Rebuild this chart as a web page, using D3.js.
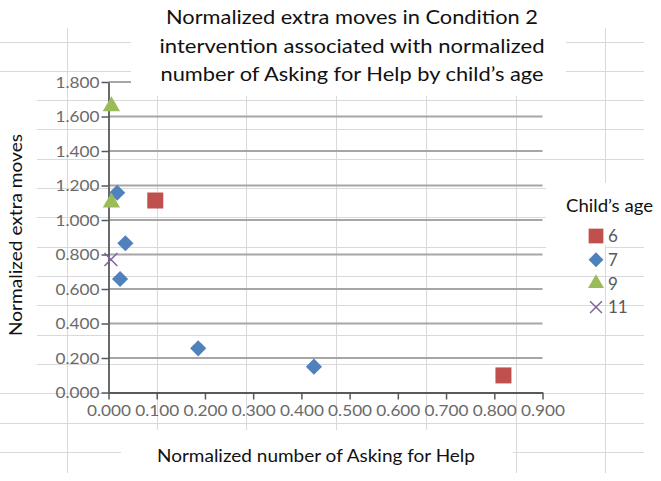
<!DOCTYPE html>
<html><head><meta charset="utf-8">
<script src="https://cdn.jsdelivr.net/npm/d3@7"></script>
<style>body{margin:0;background:#fff}svg{display:block}text{font-family:Lato,"Open Sans",sans-serif}</style>
</head><body><svg id="c" width="661" height="481"></svg>
<script>
// ---- data ----
const ages = ["6", "7", "9", "11"];
const age6X = [0.097, 0.819];
const age6Y = [1.113, 0.099];
const age7X = [0.018, 0.035, 0.024, 0.186, 0.426];
const age7Y = [1.158, 0.865, 0.658, 0.256, 0.150];
const age9X = [0.006, 0.006];
const age9Y = [1.660, 1.101];
const age11X = [0.005];
const age11Y = [0.771];
const xTicks = [0, 0.1, 0.2, 0.3, 0.4, 0.5, 0.6, 0.7, 0.8, 0.9];
const yTicks = [0, 0.2, 0.4, 0.6, 0.8, 1.0, 1.2, 1.4, 1.6, 1.8];
const titleLines = ["Normalized extra moves in Condition 2",
  "intervention associated with normalized",
  "number of Asking for Help by child\u2019s age"];
const xTitle = "Normalized number of Asking for Help";
const yTitle = "Normalized extra moves";
const legendTitle = "Child\u2019s age";

const series = [
  {age: ages[0], xs: age6X, ys: age6Y, shape: "square", color: "#C0504D"},
  {age: ages[1], xs: age7X, ys: age7Y, shape: "diamond", color: "#4F81BD"},
  {age: ages[2], xs: age9X, ys: age9Y, shape: "triangle", color: "#9BBB59"},
  {age: ages[3], xs: age11X, ys: age11Y, shape: "cross", color: "#8064A2"}
];

const svg = d3.select("#c");
svg.append("rect").attr("width", 661).attr("height", 481).attr("fill", "#fff");

// spreadsheet cell grid in the background
const sheet = svg.append("g").attr("stroke", "#d9d9d9").attr("stroke-width", 1);
d3.range(15).forEach(k => {
  const yy = Math.round(41.5 + 29.33 * k) + 0.5;
  sheet.append("line").attr("x1", 0).attr("x2", 644).attr("y1", yy).attr("y2", yy);
});
d3.range(7).forEach(k => {
  const xx = Math.round(67 + 89.7 * k) + 0.5;
  sheet.append("line").attr("x1", xx).attr("x2", xx).attr("y1", 28).attr("y2", 473);
});

const x = d3.scaleLinear().domain([0, 0.9]).range([108.5, 542.5]);
const y = d3.scaleLinear().domain([0, 1.8]).range([392.5, 82]);

// chart gridlines
svg.append("g").selectAll("line").data(yTicks.slice(1)).join("line")
  .attr("x1", x(0)).attr("x2", x(0.9))
  .attr("y1", d => y(d)).attr("y2", d => y(d))
  .attr("stroke", "#a6a6a6").attr("stroke-width", 2);

// white boxes (title, axis titles, legend title)
const boxes = [[131, 0, 435, 96], [0, 80, 37, 305], [121, 430, 392, 51], [546, 183, 115, 62], [546, 183, 59, 67]];
svg.append("g").selectAll("rect").data(boxes).join("rect")
  .attr("x", d => d[0]).attr("y", d => d[1]).attr("width", d => d[2]).attr("height", d => d[3])
  .attr("fill", "#fff");

// axes
const fmt = d3.format(".3f");
const gx = svg.append("g").attr("transform", `translate(0,${y(0)})`)
  .call(d3.axisBottom(x).tickValues(xTicks).tickFormat(fmt).tickSize(7).tickSizeOuter(0).tickPadding(5));
const gy = svg.append("g").attr("transform", `translate(${x(0)},0)`)
  .call(d3.axisLeft(y).tickValues(yTicks).tickFormat(fmt).tickSize(7).tickSizeOuter(0).tickPadding(2));
[gx, gy].forEach(g => {
  g.select(".domain").attr("stroke", "#595959").attr("stroke-width", 1.8);
  g.selectAll(".tick line").attr("stroke", "#595959").attr("stroke-width", 1.5);
  g.selectAll(".tick text").attr("fill", "#6a6a6a").style("font-size", "16px").style("font-family", "Lato")
    .attr("textLength", 44).attr("lengthAdjust", "spacingAndGlyphs");
});

// markers
function markerPath(shape, big) {
  const k = big ? 1 : 0.85;
  if (shape === "square") return d3.symbol(d3.symbolSquare, 256 * k)();
  if (shape === "diamond") return d3.symbol(d3.symbolSquare, 130 * k)();
  if (shape === "triangle") return d3.symbol(d3.symbolTriangle, 130 * k)();
  return d3.symbol(d3.symbolX, 110 * k)();
}
function drawMarker(g, s, big) {
  const p = g.append("path").attr("d", markerPath(s.shape, big));
  if (s.shape === "diamond") p.attr("transform", "rotate(45)");
  if (s.shape === "cross") p.attr("fill", "none").attr("stroke", s.color).attr("stroke-width", 1.5);
  else p.attr("fill", s.color);
  return p;
}
series.forEach(s => {
  s.xs.forEach((xv, i) => {
    const g = svg.append("g").attr("transform", `translate(${x(xv)},${y(s.ys[i])})`);
    drawMarker(g, s, true);
  });
});

// title
svg.append("g").selectAll("text").data(titleLines).join("text")
  .attr("x", 352).attr("y", (d, i) => 24 + i * 28.5)
  .attr("text-anchor", "middle").attr("fill", "#111").style("font-size", "20px")
  .attr("textLength", (d, i) => [372, 385, 383][i]).attr("lengthAdjust", "spacingAndGlyphs")
  .text(d => d);

// axis titles
svg.append("text").attr("x", 316).attr("y", 462).attr("text-anchor", "middle")
  .style("font-size", "17px").attr("fill", "#111")
  .attr("textLength", 318).attr("lengthAdjust", "spacingAndGlyphs").text(xTitle);
svg.append("text").attr("transform", "translate(22,235) rotate(-90)").attr("text-anchor", "middle")
  .style("font-size", "17px").attr("fill", "#111")
  .attr("textLength", 202).attr("lengthAdjust", "spacingAndGlyphs").text(yTitle);

// legend
svg.append("text").attr("x", 566).attr("y", 212).style("font-size", "17px").attr("fill", "#111")
  .attr("textLength", 87).attr("lengthAdjust", "spacingAndGlyphs").text(legendTitle);
series.forEach((s, i) => {
  const cy = 236 + i * 23.7;
  const g = svg.append("g").attr("transform", `translate(596,${cy})`);
  drawMarker(g, s, false);
  svg.append("text").attr("x", 608).attr("y", cy).attr("dy", "0.36em")
    .style("font-size", "17px").attr("fill", "#595959").text(s.age);
});
</script></body></html>
